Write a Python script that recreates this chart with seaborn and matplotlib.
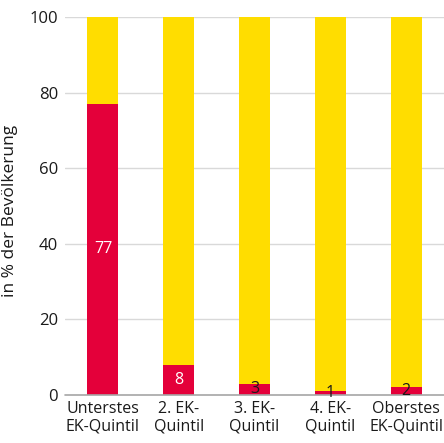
import matplotlib
matplotlib.use("Agg")
import matplotlib.pyplot as plt
import seaborn as sns
import pandas as pd

categories = ["Unterstes\nEK-Quintil", "2. EK-\nQuintil", "3. EK-\nQuintil",
              "4. EK-\nQuintil", "Oberstes\nEK-Quintil"]
affected = [77, 8, 3, 1, 2]
total = [100, 100, 100, 100, 100]
y_ticks = [0, 20, 40, 60, 80, 100]
y_label = "in % der Bevölkerung"

RED = "#E4003A"
YELLOW = "#FFDD00"

sns.set_theme(style="white")
plt.rcParams["font.family"] = ["Open Sans", "DejaVu Sans"]

df = pd.DataFrame({"Gruppe": categories, "Gesamt": total, "Betroffen": affected})

fig = plt.figure(figsize=(4.44, 4.43), dpi=100)
ax = fig.add_axes([65 / 444, 1 - 395 / 443, 379 / 444, 378 / 443])

sns.barplot(data=df, x="Gruppe", y="Gesamt", color=YELLOW, width=0.41,
            saturation=1, linewidth=0, ax=ax, zorder=3)
sns.barplot(data=df, x="Gruppe", y="Betroffen", color=RED, width=0.41,
            saturation=1, linewidth=0, ax=ax, zorder=4)

for i, v in enumerate(affected):
    colour = "white" if v >= 5 else "#1a1a1a"
    ax.text(i, v / 2, str(v), ha="center", va="center", fontsize=11.5,
            color=colour, zorder=7)

ax.set_xlim(-0.5, len(categories) - 0.5)
ax.set_ylim(0, 100)
ax.set_yticks(y_ticks)
ax.set_yticklabels([str(t) for t in y_ticks], fontsize=12, color="#1a1a1a")
ax.tick_params(axis="x", labelsize=11.5, colors="#1a1a1a", length=0, pad=4)
ax.tick_params(axis="y", length=0, pad=5)
ax.set_xlabel("")
ax.set_ylabel(y_label, fontsize=12.5, color="#1a1a1a")
ax.yaxis.set_label_coords(-0.125, 0.487)

for t in y_ticks[1:]:
    ax.axhline(t, color="#d9d9d9", lw=1, zorder=1)
ax.axhline(0, color="#a6a6a6", lw=1.2, zorder=6, clip_on=False)

for s in ax.spines.values():
    s.set_visible(False)

fig.savefig("out.png", dpi=100)
